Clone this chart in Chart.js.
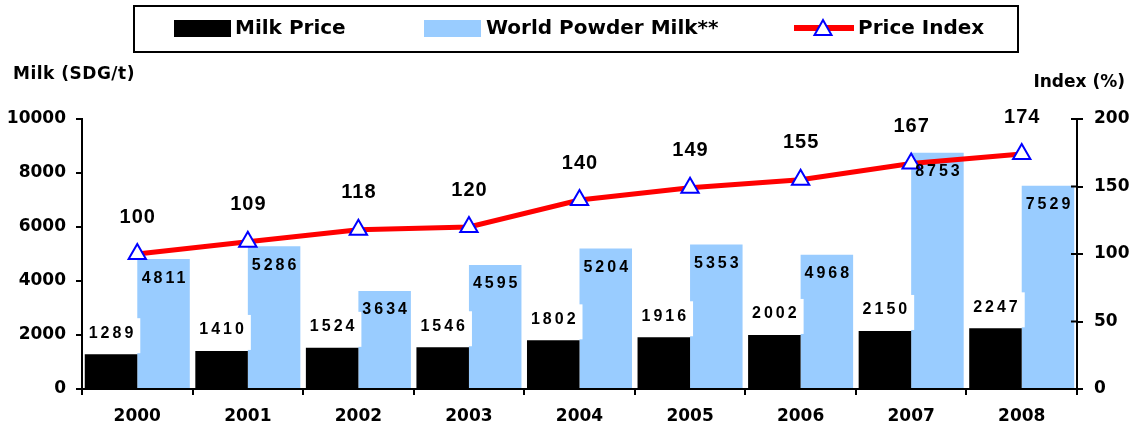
<!DOCTYPE html>
<html>
<head>
<meta charset="utf-8">
<script src="https://cdn.jsdelivr.net/npm/chart.js@4.4.1/dist/chart.umd.min.js"></script>
<style>
  body { margin: 0; background: #fff; }
  #wrap { position: relative; width: 1135px; height: 433px; }
</style>
</head>
<body>
<div id="wrap"><canvas id="milk-chart"></canvas></div>
<script>
const years = ['2000', '2001', '2002', '2003', '2004', '2005', '2006', '2007', '2008'];
const milkPrice = [1289, 1410, 1524, 1546, 1802, 1916, 2002, 2150, 2247];
const powderMilk = [4811, 5286, 3634, 4595, 5204, 5353, 4968, 8753, 7529];
const priceIndex = [100, 109, 118, 120, 140, 149, 155, 167, 174];

const AXIS_FONT = { family: 'DejaVu Sans', size: 17, weight: 'bold' };

// numbers above / inside bars and above the index markers
const valueLabels = {
    id: 'valueLabels',
    afterDatasetsDraw(chart) {
        const ctx = chart.ctx;
        ctx.save();
        ctx.textAlign = 'center';
        ctx.textBaseline = 'middle';
        ctx.font = 'bold 16px "Liberation Sans"';
        ctx.letterSpacing = '3px';

        chart.getDatasetMeta(0).data.forEach((bar, i) => {
            const w = bar.width;
            ctx.fillStyle = '#fff';
            ctx.fillRect(bar.x - w / 2, bar.y - 36, w + 3, 35);
            ctx.fillStyle = '#000';
            ctx.fillText(String(milkPrice[i]), bar.x + 1.5, bar.y - 21);
        });

        chart.getDatasetMeta(1).data.forEach((bar, i) => {
            ctx.fillText(String(powderMilk[i]), bar.x + 1.5, bar.y + 19);
        });

        ctx.letterSpacing = '1px';
        ctx.font = 'bold 20px "Liberation Sans"';
        chart.getDatasetMeta(2).data.forEach((pt, i) => {
            ctx.fillText(String(priceIndex[i]), pt.x + 0.5, pt.y - 37);
        });
        ctx.restore();
    }
};

// boxed legend, axis titles and the crossing ticks on the index axis
const chartDecor = {
    id: 'chartDecor',
    afterDraw(chart) {
        const ctx = chart.ctx;
        const sets = chart.data.datasets;
        ctx.save();

        ctx.strokeStyle = '#000';
        ctx.lineWidth = 2;
        ctx.strokeRect(134, 6, 884, 46);

        ctx.font = 'bold 20px "DejaVu Sans"';
        ctx.textBaseline = 'middle';
        ctx.textAlign = 'left';

        ctx.fillStyle = sets[0].backgroundColor;
        ctx.fillRect(174, 20, 57, 17);
        ctx.fillStyle = '#000';
        ctx.fillText(sets[0].label, 235, 29);

        ctx.fillStyle = sets[1].backgroundColor;
        ctx.fillRect(424, 20, 57, 17);
        ctx.fillStyle = '#000';
        ctx.fillText(sets[1].label, 486, 29);

        ctx.strokeStyle = sets[2].borderColor;
        ctx.lineWidth = 6;
        ctx.beginPath();
        ctx.moveTo(794, 28);
        ctx.lineTo(854, 28);
        ctx.stroke();
        ctx.fillStyle = '#fff';
        ctx.strokeStyle = sets[2].pointBorderColor;
        ctx.lineWidth = 2;
        ctx.beginPath();
        ctx.moveTo(823, 20);
        ctx.lineTo(831.5, 35);
        ctx.lineTo(814.5, 35);
        ctx.closePath();
        ctx.fill();
        ctx.stroke();
        ctx.fillStyle = '#000';
        ctx.fillText(sets[2].label, 858, 29);

        ctx.font = 'bold 17px "DejaVu Sans"';
        ctx.letterSpacing = '0.5px';
        ctx.fillText('Milk (SDG/t)', 13, 75);
        ctx.textAlign = 'right';
        ctx.letterSpacing = '0px';
        ctx.fillText('Index (%)', 1125, 83);

        const right = chart.scales.y1;
        ctx.strokeStyle = '#000';
        ctx.lineWidth = 2;
        right.ticks.forEach(t => {
            const y = right.getPixelForValue(t.value);
            ctx.beginPath();
            ctx.moveTo(right.left - 6, y);
            ctx.lineTo(right.left, y);
            ctx.stroke();
        });
        ctx.restore();
    }
};

new Chart(document.getElementById('milk-chart'), {
    type: 'bar',
    data: {
        labels: years,
        datasets: [
            {
                label: 'Milk Price',
                data: milkPrice,
                backgroundColor: '#000000',
                yAxisID: 'y',
                order: 2
            },
            {
                label: 'World Powder Milk**',
                data: powderMilk,
                backgroundColor: '#99CCFF',
                yAxisID: 'y',
                order: 2
            },
            {
                label: 'Price Index',
                type: 'line',
                data: priceIndex,
                borderColor: '#FF0000',
                borderWidth: 5,
                tension: 0,
                pointStyle: 'triangle',
                pointRadius: 10,
                pointBorderWidth: 2,
                pointBorderColor: '#0000FF',
                pointBackgroundColor: '#FFFFFF',
                yAxisID: 'y1',
                order: 0
            }
        ]
    },
    options: {
        responsive: true,
        maintainAspectRatio: false,
        animation: false,
        datasets: { bar: { categoryPercentage: 0.95, barPercentage: 1.0 } },
        layout: { padding: { top: 119, left: 0, right: 0, bottom: 0 } },
        plugins: {
            legend: { display: false },
            tooltip: { enabled: false }
        },
        scales: {
            x: {
                grid: { drawOnChartArea: false, drawTicks: true, tickLength: 6, color: '#000', lineWidth: 2 },
                border: { color: '#000', width: 2 },
                ticks: { color: '#000', font: AXIS_FONT, padding: 11 },
                afterFit: s => { s.height = 44; }
            },
            y: {
                position: 'left',
                min: 0,
                max: 10000,
                ticks: { stepSize: 2000, color: '#000', font: AXIS_FONT, padding: 10, callback: v => String(v) },
                grid: { drawOnChartArea: false, drawTicks: true, tickLength: 6, color: '#000', lineWidth: 2 },
                border: { color: '#000', width: 2 },
                afterFit: s => { s.width = 82; }
            },
            y1: {
                position: 'right',
                min: 0,
                max: 200,
                ticks: { stepSize: 50, color: '#000', font: AXIS_FONT, padding: 11, callback: v => String(v) },
                grid: { drawOnChartArea: false, drawTicks: true, tickLength: 6, color: '#000', lineWidth: 2 },
                border: { color: '#000', width: 2 },
                afterFit: s => { s.width = 58; }
            }
        }
    },
    plugins: [valueLabels, chartDecor]
});
</script>
</body>
</html>
